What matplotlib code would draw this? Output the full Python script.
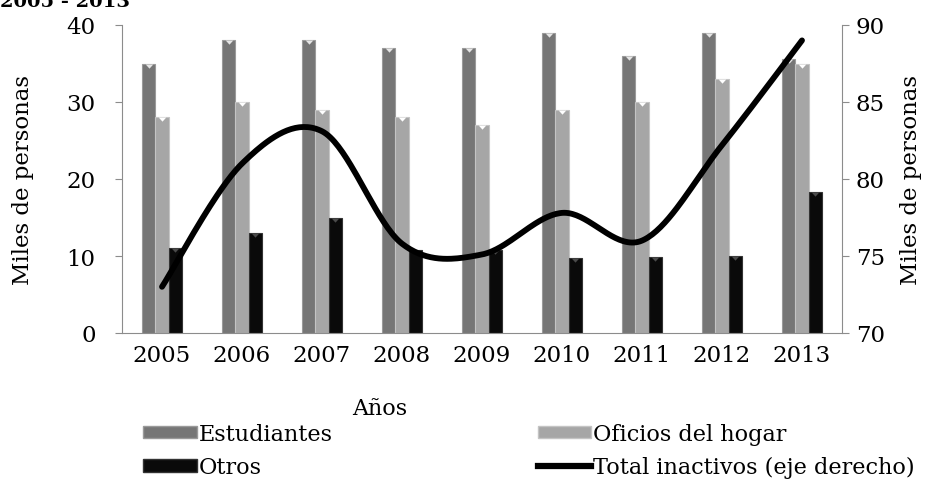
import numpy as np
import matplotlib
matplotlib.use("Agg")
import matplotlib.pyplot as plt
from matplotlib.lines import Line2D
from matplotlib.patches import Patch

years = ["2005", "2006", "2007", "2008", "2009", "2010", "2011", "2012", "2013"]
estudiantes = [35, 38, 38, 37, 37, 39, 36, 39, 35.6]
oficios_hogar = [28, 30, 29, 28, 27, 29, 30, 33, 35]
otros = [11, 13, 15, 10.8, 10.8, 9.8, 9.9, 10, 18.3]
total_inactivos = [73, 81, 83.1, 75.8, 75.1, 77.8, 76.0, 82.2, 89]

left_ticks = [0, 10, 20, 30, 40]
right_ticks = [70, 75, 80, 85, 90]

serif = "DejaVu Serif"

fig = plt.figure(figsize=(9.25, 4.81), dpi=100)
ax = fig.add_axes([122 / 925, 1 - 334 / 481, 720 / 925, 308 / 481])
ax2 = ax.twinx()

x = np.arange(len(years))
w = 0.163
c_est, c_ofi, c_otr = "#767676", "#a6a6a6", "#0a0a0a"
ax.bar(x - w, estudiantes, w, color=c_est, edgecolor="#9a9a9a", linewidth=0.8, zorder=2)
ax.bar(x, oficios_hogar, w, color=c_ofi, edgecolor="#c4c4c4", linewidth=0.8, zorder=2)
ax.bar(x + w, otros, w, color=c_otr, edgecolor="#333333", linewidth=0.8, zorder=2)

tri = [(-1, 0), (1, 0), (0, -1.1), (-1, 0)]
ax.plot(x - w, estudiantes, ls="none", marker=tri, ms=6, color="#e6e6e6", mec="none", zorder=3)
ax.plot(x, oficios_hogar, ls="none", marker=tri, ms=6, color="#ffffff", mec="none", zorder=3)
ax.plot(x + w, otros, ls="none", marker=tri, ms=6, color="#4a4a4a", mec="none", zorder=3)

# Smoothed line (Excel-style Catmull-Rom bezier smoothing)
xs, ys = x.astype(float), np.array(total_inactivos, dtype=float)
px = np.concatenate([[xs[0]], xs, [xs[-1]]])
py = np.concatenate([[ys[0]], ys, [ys[-1]]])
cx, cy = [], []
t = np.linspace(0, 1, 40)
for i in range(len(xs) - 1):
    p0 = np.array([px[i + 1], py[i + 1]])
    p3 = np.array([px[i + 2], py[i + 2]])
    p1 = p0 + (np.array([px[i + 2], py[i + 2]]) - np.array([px[i], py[i]])) / 6
    p2 = p3 - (np.array([px[i + 3], py[i + 3]]) - np.array([px[i + 1], py[i + 1]])) / 6
    b = ((1 - t) ** 3)[:, None] * p0 + (3 * (1 - t) ** 2 * t)[:, None] * p1 + \
        (3 * (1 - t) * t ** 2)[:, None] * p2 + (t ** 3)[:, None] * p3
    cx.extend(b[:, 0]); cy.extend(b[:, 1])
ax2.plot(cx, cy, color="black", lw=4.2, solid_capstyle="round", zorder=4)

ax.set_xlim(-0.5, len(years) - 0.5)
ax.set_ylim(0, 40)
ax2.set_ylim(70, 90)
ax.set_yticks(left_ticks)
ax2.set_yticks(right_ticks)
ax.set_xticks(x)
ax.set_xticklabels(years)

spine_c = "#8c8c8c"
for a in (ax, ax2):
    a.spines["top"].set_visible(False)
    for s in ("left", "right", "bottom"):
        a.spines[s].set_color(spine_c)
ax.spines["right"].set_visible(False)
ax2.spines["left"].set_visible(False)
ax2.spines["bottom"].set_visible(False)
ax.tick_params(axis="y", direction="out", length=5, color=spine_c, labelsize=16.5, pad=14)
ax.tick_params(axis="x", length=0, labelsize=16.5, pad=8)
ax2.tick_params(axis="y", direction="out", length=5, color=spine_c, labelsize=16.5, pad=5)
for lab in ax.get_xticklabels() + ax.get_yticklabels() + ax2.get_yticklabels():
    lab.set_fontfamily(serif)

ax.set_ylabel("Miles de personas", fontsize=16.5, family=serif)
ax.yaxis.set_label_coords((23 - 122) / 720, 0.5)
ax.yaxis.label.set_va("center")
ax2.set_ylabel("Miles de personas", fontsize=16.5, family=serif)
ax2.yaxis.set_label_coords((911 - 122) / 720, 0.5)
ax2.yaxis.label.set_va("center")
ax.set_xlabel("Años", fontsize=16, family=serif)
ax.xaxis.set_label_coords((380 - 122) / 720, (334 - 409) / 308)
ax.xaxis.label.set_va("center")
ax.set_zorder(ax2.get_zorder() - 1)
ax.patch.set_visible(False)

handles = [
    Patch(facecolor=c_est, edgecolor="#9a9a9a"),
    Patch(facecolor=c_ofi, edgecolor="#c4c4c4"),
    Patch(facecolor=c_otr, edgecolor="#333333"),
    Line2D([0], [0], color="black", lw=4.5),
]
labels = ["Estudiantes", "Oficios del hogar", "Otros", "Total inactivos (eje derecho)"]
order = [0, 2, 1, 3]
fig.legend([handles[i] for i in order], [labels[i] for i in order], ncol=2,
           loc="upper left", bbox_to_anchor=(143 / 925, 1 - 424 / 481), frameon=False,
           prop={"family": serif, "size": 16.1}, handlelength=2.4, handleheight=0.5,
           handletextpad=0.1, columnspacing=9.15, labelspacing=0.5,
           borderpad=0, borderaxespad=0)

fig.text(0.0, 1 - 7 / 481, "2005 - 2013", fontsize=14, fontweight="bold", family=serif,
         ha="left", va="baseline")

fig.savefig("out.png", dpi=100)
